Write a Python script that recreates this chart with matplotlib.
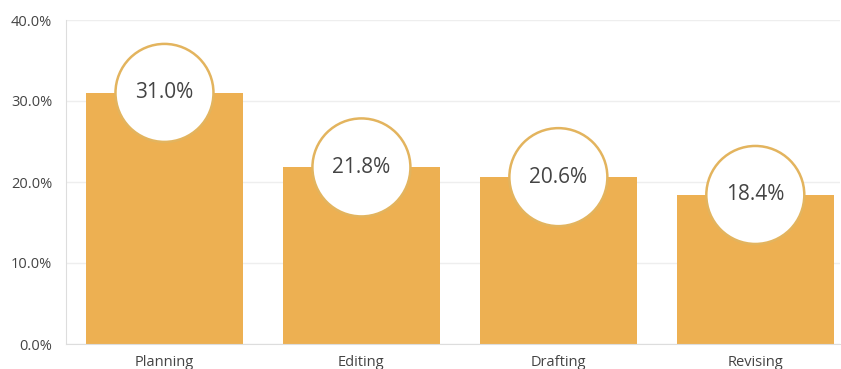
import matplotlib.pyplot as plt
from matplotlib.patches import Ellipse

stages = ["Planning", "Editing", "Drafting", "Revising"]
shares = [31.0, 21.8, 20.6, 18.4]
yticks = [0, 10, 20, 30, 40]

bar_color = "#EDB052"
ring_color = "#E3B45E"
text_color = "#444444"

plt.rcParams['font.family'] = ['Open Sans', 'DejaVu Sans']

fig = plt.figure(figsize=(8.41, 3.69), dpi=100)
ax = fig.add_axes([66 / 841, 1 - 344 / 369, (840 - 66) / 841, (344 - 20) / 369])

x = list(range(len(stages)))
ax.bar(x, shares, width=0.8, color=bar_color, zorder=2)
ax.set_xlim(-0.5, 3.43)
ax.set_ylim(0, 40)

# circle badges sitting on top of each bar; keep them round in pixel space
px_per_x = (840 - 66) / 3.93
px_per_y = (344 - 20) / 40
r_px = 49
for xi, v in zip(x, shares):
    badge = Ellipse((xi, v), width=2 * r_px / px_per_x, height=2 * r_px / px_per_y,
                    facecolor="white", edgecolor=ring_color, linewidth=1.8,
                    zorder=3, clip_on=False)
    ax.add_patch(badge)
    ax.text(xi, v, f"{v:.1f}%", ha="center", va="center", fontsize=15,
            color=text_color, zorder=4)

ax.set_yticks(yticks)
ax.set_yticklabels([f"{t:.1f}%" for t in yticks])
ax.set_xticks(x)
ax.set_xticklabels(stages)
ax.tick_params(axis="both", length=0, labelsize=10.5, colors=text_color)
ax.tick_params(axis="y", pad=10)
ax.tick_params(axis="x", pad=8)
ax.grid(axis="y", color="#EEEEEE", linewidth=1, zorder=0)
ax.set_axisbelow(True)
for side in ["top", "right"]:
    ax.spines[side].set_visible(False)
for side in ["left", "bottom"]:
    ax.spines[side].set_color("#DDDDDD")

fig.savefig("out.png", dpi=100)
